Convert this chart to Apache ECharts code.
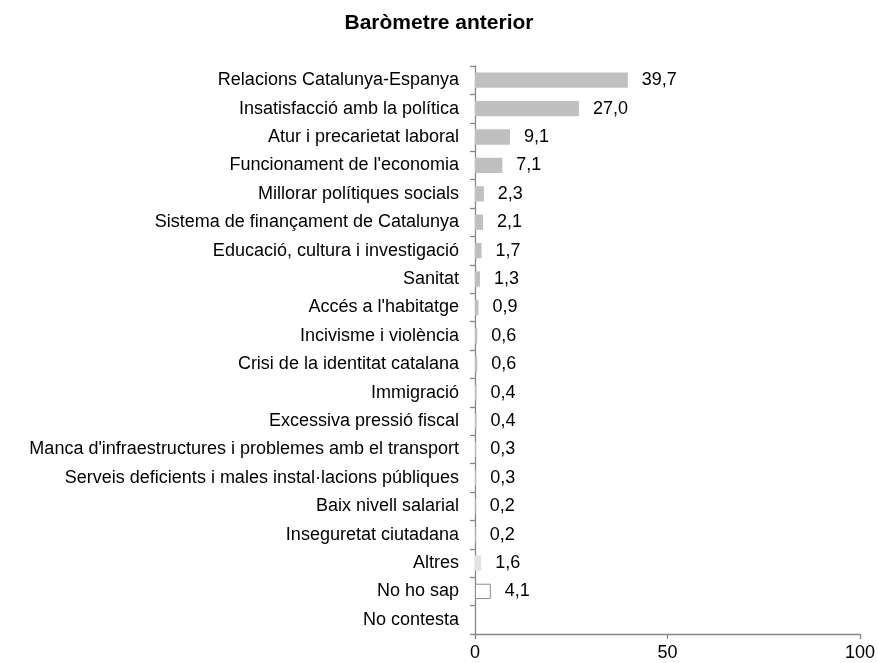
<!DOCTYPE html>
<html>
<head>
<meta charset="utf-8">
<script src="https://cdn.jsdelivr.net/npm/echarts@6/dist/echarts.min.js"></script>
<style>
  html, body { margin: 0; padding: 0; background: #fff; }
  #container { width: 878px; height: 663px; }
</style>
</head>
<body>
<div id="container"></div>
<script>
var categories = [
    'Relacions Catalunya-Espanya',
    'Insatisfacció amb la política',
    'Atur i precarietat laboral',
    "Funcionament de l'economia",
    'Millorar polítiques socials',
    'Sistema de finançament de Catalunya',
    'Educació, cultura i investigació',
    'Sanitat',
    "Accés a l'habitatge",
    'Incivisme i violència',
    'Crisi de la identitat catalana',
    'Immigració',
    'Excessiva pressió fiscal',
    "Manca d'infraestructures i problemes amb el transport",
    'Serveis deficients i males instal·lacions públiques',
    'Baix nivell salarial',
    'Inseguretat ciutadana',
    'Altres',
    'No ho sap',
    'No contesta'
];
var values = [39.7, 27.0, 9.1, 7.1, 2.3, 2.1, 1.7, 1.3, 0.9, 0.6, 0.6, 0.4, 0.4, 0.3, 0.3, 0.2, 0.2, 1.6, 4.1, null];
var xTicks = [0, 50, 100];

var myChart = echarts.init(document.getElementById('container'));

var data = values.map(function (v, i) {
    var item = { value: v };
    if (categories[i] === 'Altres') {
        item.itemStyle = { color: '#e2e2e2' };
    } else if (categories[i] === 'No ho sap') {
        item.itemStyle = { color: '#ffffff', borderColor: '#8c8c8c', borderWidth: 1 };
    }
    return item;
});

var font = 'Liberation Sans, Arial, sans-serif';

var option = {
    backgroundColor: '#fff',
    animation: false,
    textStyle: { fontFamily: font },
    title: {
        text: 'Baròmetre anterior',
        left: 'center',
        top: 8,
        textStyle: { fontSize: 21, fontWeight: 'bold', color: '#000', fontFamily: font }
    },
    grid: { left: 475, right: 16, top: 66, bottom: 29, containLabel: false },
    xAxis: {
        type: 'value',
        min: xTicks[0],
        max: xTicks[xTicks.length - 1],
        interval: 50,
        splitLine: { show: false },
        axisLine: { show: true, lineStyle: { color: '#868686', width: 1.3 } },
        axisTick: { show: true, length: 5, lineStyle: { color: '#868686', width: 1.3 } },
        axisLabel: { color: '#000', fontSize: 18, margin: 10 }
    },
    yAxis: {
        type: 'category',
        inverse: true,
        data: categories,
        axisLine: { show: true, lineStyle: { color: '#868686', width: 1.3 } },
        axisTick: { show: true, length: 5, lineStyle: { color: '#868686', width: 1.3 } },
        axisLabel: { color: '#000', fontSize: 18, margin: 16 }
    },
    series: [{
        type: 'bar',
        data: data,
        barWidth: '54%',
        itemStyle: { color: '#c0c0c0' },
        label: {
            show: true,
            position: 'right',
            distance: 14,
            color: '#000',
            fontSize: 18,
            formatter: function (p) {
                return p.value == null ? '' : p.value.toFixed(1).replace('.', ',');
            }
        }
    }]
};
myChart.setOption(option, true);
</script>
</body>
</html>
